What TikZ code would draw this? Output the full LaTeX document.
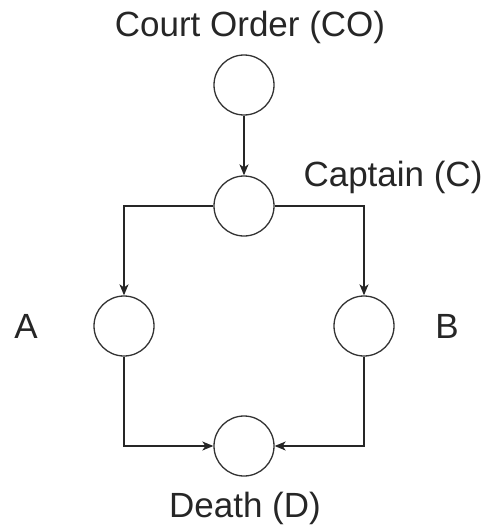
\documentclass[tikz,border=0pt]{standalone}
\usepackage{fontspec}
\setmainfont{Liberation Sans}
\usetikzlibrary{arrows.meta}
\begin{document}
\begin{tikzpicture}[x=1pt,y=-1pt,
  state/.style={circle,draw=black!80,line width=1.3pt,minimum size=60pt,inner sep=0pt},
  lbl/.style={font=\fontsize{35}{40}\selectfont,text=black!85,inner sep=0pt,anchor=base},
  edge/.style={draw=black!85,line width=1.3pt,-{Stealth[length=11pt,width=9pt,inset=3pt]}}]
  \useasboundingbox (0,0) rectangle (487,527);
  % states
  \node[state] (co) at (244,85) {};
  \node[state] (c)  at (244,206) {};
  \node[state] (a)  at (124,326) {};
  \node[state] (b)  at (364,326) {};
  \node[state] (d)  at (244,446) {};
  % labels
  \node[lbl] (tco) at (250,37) {Court Order (CO)};
  \node[lbl] (tc)  at (393,186) {Captain (C)};
  \node[lbl] (ta)  at (26,338) {A};
  \node[lbl] (tb)  at (447,338) {B};
  \node[lbl] (td)  at (245,517) {Death (D)};
  % connectors
  \draw[edge] (co) -- (c);
  \draw[edge] (c.west) -| (a.north);
  \draw[edge] (c.east) -| (b.north);
  \draw[edge] (a.south) |- (d.west);
  \draw[edge] (b.south) |- (d.east);
\end{tikzpicture}
\end{document}
